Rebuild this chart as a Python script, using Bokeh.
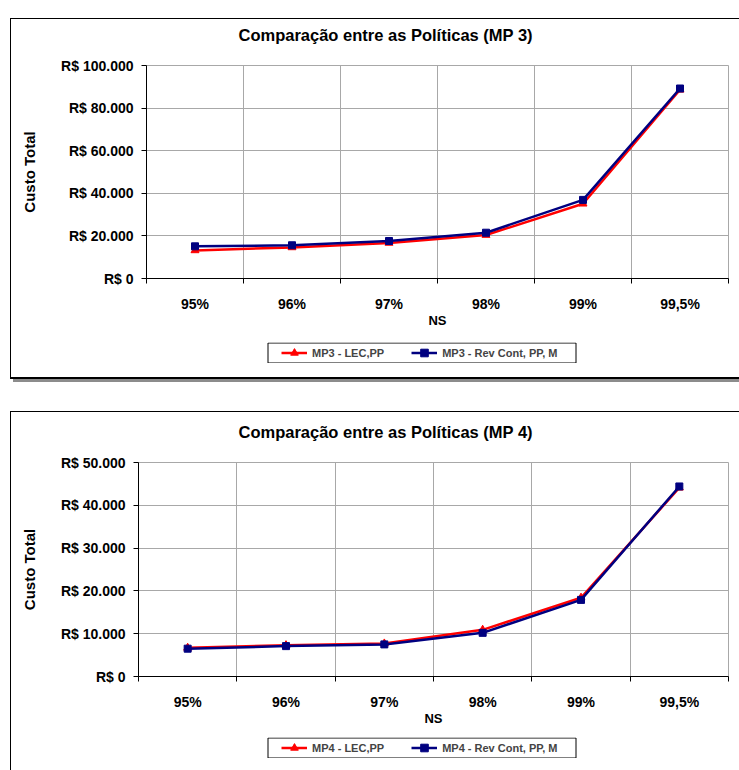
import numpy as np
from bokeh.plotting import figure
from bokeh.models import Range1d, FixedTicker, Legend, LegendItem, BoxAnnotation
from bokeh.layouts import column
from bokeh.embed import file_html
from bokeh.resources import INLINE

# Service levels (NS) on the category axis
categories = ["95%", "96%", "97%", "98%", "99%", "99,5%"]

# MP 3 total cost per policy
mp3_lec_pp = [13200, 14600, 16700, 20400, 35100, 88600]
mp3_rev_cont = [15100, 15600, 17600, 21500, 36900, 89200]
mp3_y_ticks = [0, 20000, 40000, 60000, 80000, 100000]
mp3_y_labels = ["R$ 0", "R$ 20.000", "R$ 40.000", "R$ 60.000", "R$ 80.000", "R$ 100.000"]
mp3_names = ["MP3 - LEC,PP", "MP3 - Rev Cont, PP, M"]

# MP 4 total cost per policy
mp4_lec_pp = [6700, 7300, 7700, 10900, 18400, 44100]
mp4_rev_cont = [6500, 7100, 7500, 10200, 17900, 44400]
mp4_y_ticks = [0, 10000, 20000, 30000, 40000, 50000]
mp4_y_labels = ["R$ 0", "R$ 10.000", "R$ 20.000", "R$ 30.000", "R$ 40.000", "R$ 50.000"]
mp4_names = ["MP4 - LEC,PP", "MP4 - Rev Cont, PP, M"]

FONT = "Liberation Sans"
RED = "#ff0000"
NAVY = "#000080"
GRID = "#a8a8a8"
FIG_W = 728
BORDER_R = 11
PAGE_X0 = 11  # left edge of the drawing area inside the panel border

LEC_STYLE = dict(color=RED, line_width=2.5, marker="triangle", size=8)
REV_STYLE = dict(color=NAVY, line_width=2.5, marker="square", size=7)


def add_series(p, x, y, style):
    line = p.line(x, y, color=style["color"], line_width=style["line_width"])
    dots = p.scatter(x, y, marker=style["marker"], size=style["size"], color=style["color"])
    return [line, dots]


def make_chart(title_text, lec, rev, y_ticks, y_labels,
               border_left, border_top, border_bottom, height, title_offset):
    n = len(categories)
    centers = [i + 0.5 for i in range(n)]
    bounds = list(range(n + 1))

    p = figure(width=FIG_W, height=height,
               x_range=Range1d(0, n), y_range=Range1d(y_ticks[0], y_ticks[-1]),
               output_backend="svg", toolbar_location=None,
               min_border_left=border_left, min_border_right=BORDER_R,
               min_border_top=border_top, min_border_bottom=border_bottom,
               background_fill_color="white", border_fill_color="white",
               outline_line_color=GRID, outline_line_width=1)

    # a blank second line keeps the title clear of the plot area
    p.title.text = title_text + "\n "
    p.title.align = "left"
    p.title.offset = title_offset
    p.title.text_font = FONT
    p.title.text_font_size = "16.5px"
    p.title.text_font_style = "bold"
    p.title.text_color = "black"
    p.title.text_line_height = 1.2
    p.title.standoff = 0

    # x axis: labels at category centres, tick marks between categories
    xa = p.xaxis[0]
    xa.ticker = FixedTicker(ticks=centers, minor_ticks=bounds)
    xa.major_label_overrides = {c: lab for c, lab in zip(centers, categories)}
    xa.major_tick_out = 0
    xa.major_tick_in = 0
    xa.minor_tick_out = 5
    xa.minor_tick_in = 0
    xa.minor_tick_line_color = "black"
    xa.axis_line_color = "black"
    xa.major_label_text_font = FONT
    xa.major_label_text_font_size = "14px"
    xa.major_label_text_font_style = "bold"
    xa.major_label_text_color = "black"
    xa.major_label_standoff = 12
    xa.axis_label = "NS"
    xa.axis_label_text_font = FONT
    xa.axis_label_text_font_size = "13px"
    xa.axis_label_text_font_style = "bold"
    xa.axis_label_text_color = "black"
    xa.axis_label_standoff = -2

    ya = p.yaxis[0]
    ya.ticker = FixedTicker(ticks=y_ticks, minor_ticks=[])
    ya.major_label_overrides = {t: lab for t, lab in zip(y_ticks, y_labels)}
    ya.major_tick_out = 5
    ya.major_tick_in = 0
    ya.minor_tick_out = 0
    ya.axis_line_color = "black"
    ya.major_tick_line_color = "black"
    ya.major_label_text_font = FONT
    ya.major_label_text_font_size = "14px"
    ya.major_label_text_font_style = "bold"
    ya.major_label_text_color = "black"
    ya.major_label_standoff = 8
    ya.axis_label = "Custo Total"
    ya.axis_label_text_font = FONT
    ya.axis_label_text_font_size = "15px"
    ya.axis_label_text_font_style = "bold"
    ya.axis_label_text_color = "black"
    ya.axis_label_standoff = 20

    p.xgrid.ticker = FixedTicker(ticks=bounds)
    p.xgrid.grid_line_color = GRID
    p.ygrid.grid_line_color = GRID

    add_series(p, centers, lec, LEC_STYLE)
    add_series(p, centers, rev, REV_STYLE)
    return p


def make_legend(names, border_left, bottom_gap, box_left=267, box_right=576, height=21):
    # key strip under the chart; its x range is laid out in page pixels
    x0 = PAGE_X0 + border_left
    x1 = PAGE_X0 + FIG_W - BORDER_R
    lg = figure(width=FIG_W, height=height,
                x_range=Range1d(x0, x1), y_range=Range1d(0, height),
                x_axis_type=None, y_axis_type=None,
                output_backend="svg", toolbar_location=None,
                min_border_left=border_left, min_border_right=BORDER_R,
                min_border_top=0, min_border_bottom=0,
                background_fill_color="white", border_fill_color="white",
                outline_line_color=None)
    lg.add_layout(BoxAnnotation(left=box_left + 0.5, right=box_right - 0.5,
                                bottom=0.5, top=height - 0.5,
                                fill_alpha=0.0, line_color="black", line_width=1,
                                line_alpha=1.0))
    nan = np.array([np.nan])
    r_lec = add_series(lg, nan, nan, LEC_STYLE)
    r_rev = add_series(lg, nan, nan, REV_STYLE)
    legend = Legend(
        items=[LegendItem(label=names[0], renderers=r_lec),
               LegendItem(label=names[1], renderers=r_rev)],
        orientation="horizontal", location=(box_left + 14 - x0, 1),
        label_text_font=FONT, label_text_font_size="11px",
        label_text_font_style="bold", label_standoff=5, label_height=height - 2,
        glyph_width=26, glyph_height=height - 2, spacing=27, padding=0, margin=0,
        border_line_color=None, background_fill_alpha=0.0)
    lg.add_layout(legend)
    lg.margin = (0, 0, bottom_gap, 0)
    return lg


p1 = make_chart("Comparação entre as Políticas (MP 3)", mp3_lec_pp, mp3_rev_cont,
                mp3_y_ticks, mp3_y_labels,
                border_left=135, border_top=46, border_bottom=64, height=323,
                title_offset=92)
leg1 = make_legend(mp3_names, border_left=135, bottom_gap=14)
block1 = column(p1, leg1, styles={
    "border-left": "1px solid #000", "border-top": "1px solid #000",
    "border-bottom": "2px solid #000", "box-shadow": "3px 3px 0 #8c8c8c"})
block1.margin = (18, 0, 0, 10)

p2 = make_chart("Comparação entre as Políticas (MP 4)", mp4_lec_pp, mp4_rev_cont,
                mp4_y_ticks, mp4_y_labels,
                border_left=127, border_top=50, border_bottom=61, height=325,
                title_offset=100)
leg2 = make_legend(mp4_names, border_left=127, bottom_gap=12)
block2 = column(p2, leg2, styles={
    "border-left": "1px solid #000", "border-top": "1px solid #000"})
block2.margin = (32, 0, 0, 10)

layout = column(block1, block2)
open("out.html", "w").write(file_html(layout, INLINE))
